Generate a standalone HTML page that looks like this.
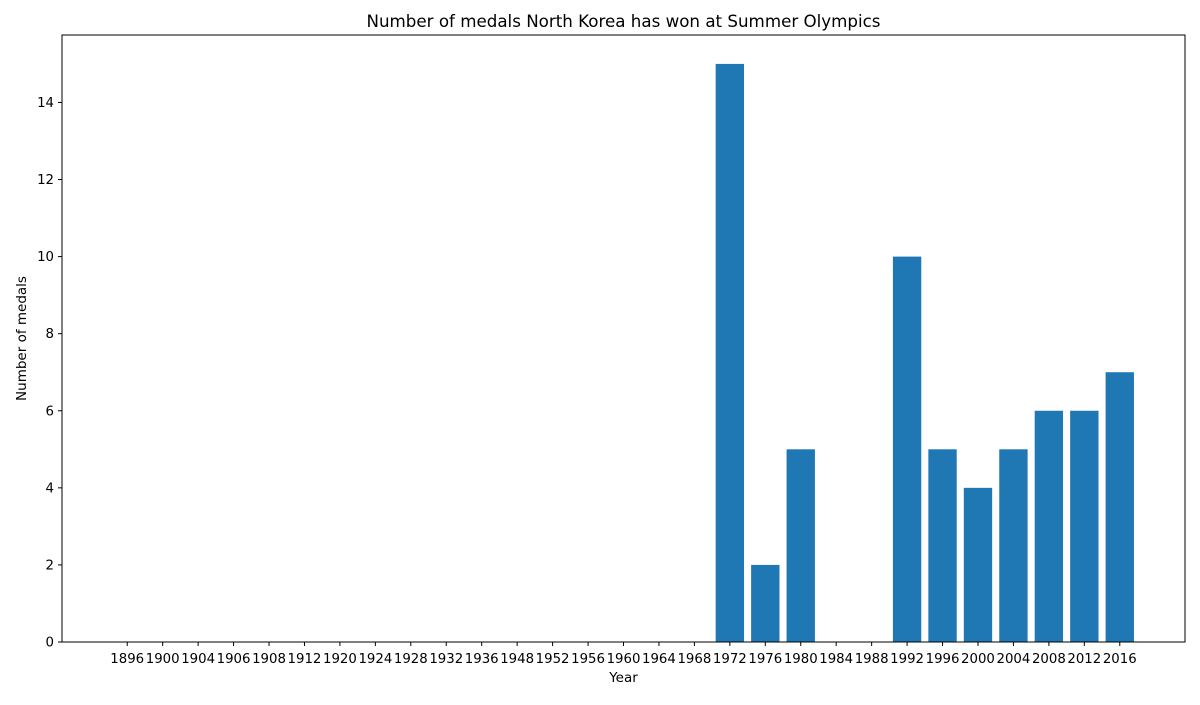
<!DOCTYPE html>
<html><head><meta charset="utf-8"><style>
body{margin:0;background:#fff;font-family:"Liberation Sans","DejaVu Sans",sans-serif;}
svg text{font-family:"DejaVu Sans","Liberation Sans",sans-serif;fill:#000;}
</style></head><body>
<svg id="chart" width="1200" height="700" xmlns="http://www.w3.org/2000/svg">
<rect width="1200" height="700" fill="#fff"/>
<text x="623.5" y="27" font-size="16.7" text-anchor="middle">Number of medals North Korea has won at Summer Olympics</text>
<g id="bars"></g>
<g id="xticks"></g>
<g id="yticks"></g>
<rect x="62" y="35" width="1123" height="607" fill="none" stroke="#000" stroke-width="1"/>
<text x="623.5" y="682" font-size="13.5" text-anchor="middle">Year</text>
<text transform="translate(26,338.5) rotate(-90)" font-size="13.5" text-anchor="middle">Number of medals</text>
</svg>
<script>
const years=["1896","1900","1904","1906","1908","1912","1920","1924","1928","1932","1936","1948","1952","1956","1960","1964","1968","1972","1976","1980","1984","1988","1992","1996","2000","2004","2008","2012","2016"];
const medals=[0,0,0,0,0,0,0,0,0,0,0,0,0,0,0,0,0,15,2,5,0,0,10,5,4,5,6,6,7];
const yTickValues=[0,2,4,6,8,10,12,14];
const NS="http://www.w3.org/2000/svg";
const L=62,R=1185,T=35,B=642;
const n=years.length;
const maxV=Math.max(...medals)*1.05;
const dmin=-0.4,dmax=n-1+0.4,m=(dmax-dmin)*0.05;
const xmin=dmin-m,xmax=dmax+m;
const xs=i=>L+(i-xmin)/(xmax-xmin)*(R-L);
const ys=v=>B-v/maxV*(B-T);
const bw=0.8*(R-L)/(xmax-xmin);
const bars=document.getElementById('bars'),xt=document.getElementById('xticks'),yt=document.getElementById('yticks');
medals.forEach((v,i)=>{
 const r=document.createElementNS(NS,'rect');
 
 
 r.setAttribute('x',xs(i)-bw/2);r.setAttribute('width',bw);
 r.setAttribute('y',ys(v));r.setAttribute('height',B-ys(v));
 r.setAttribute('fill','#1f77b4');bars.appendChild(r);
});
years.forEach((y,i)=>{
 const l=document.createElementNS(NS,'line');
 
 
 l.setAttribute('x1',xs(i));l.setAttribute('x2',xs(i));l.setAttribute('y1',B);l.setAttribute('y2',B+4);
 l.setAttribute('stroke','#000');xt.appendChild(l);
 const t=document.createElementNS(NS,'text');
 
 
 t.setAttribute('x',xs(i));t.setAttribute('y',B+21);t.setAttribute('font-size','13.3');t.setAttribute('text-anchor','middle');
 t.textContent=y;xt.appendChild(t);
});
yTickValues.forEach(v=>{
 const l=document.createElementNS(NS,'line');
 
 
 l.setAttribute('x1',L-4);l.setAttribute('x2',L);l.setAttribute('y1',ys(v));l.setAttribute('y2',ys(v));
 l.setAttribute('stroke','#000');yt.appendChild(l);
 const t=document.createElementNS(NS,'text');
 
 
 t.setAttribute('x',L-8);t.setAttribute('y',ys(v)+4.5);t.setAttribute('font-size','13.3');t.setAttribute('text-anchor','end');
 t.textContent=v;yt.appendChild(t);
});
</script>
</body></html>
